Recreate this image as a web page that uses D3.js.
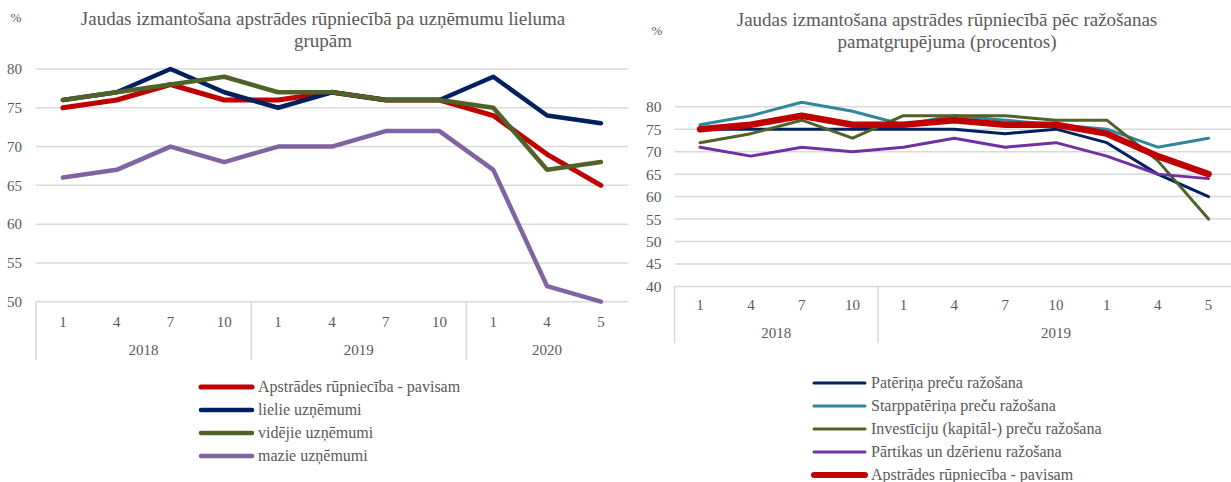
<!doctype html>
<html lang="lv">
  <head>
    <meta charset="utf-8">
    <title>Jaudas izmantošana apstrādes rūpniecībā</title>
    <style>
      body{
        margin: 0;
        background: #fff;
      }
    </style>
  </head>
  <body>
    <svg id="chart" width="1231" height="482" font-family="'Liberation Serif', 'DejaVu Serif', serif"></svg>
    <script src="https://d3js.org/d3.v7.min.js"></script>
    <script>

      // ---- left chart data: by enterprise size ----
      var monthsLeft = ["1", "4", "7", "10", "1", "4", "7", "10", "1", "4", "5"];
      var yearsLeft = ["2018", "2018", "2018", "2018", "2019", "2019", "2019", "2019", "2020", "2020", "2020"];
      var totalLeft = [75, 76, 78, 76, 76, 77, 76, 76, 74, 69, 65];
      var largeLeft = [76, 77, 80, 77, 75, 77, 76, 76, 79, 74, 73];
      var mediumLeft = [76, 77, 78, 79, 77, 77, 76, 76, 75, 67, 68];
      var smallLeft = [66, 67, 70, 68, 70, 70, 72, 72, 67, 52, 50];
      var ticksLeft = [50, 55, 60, 65, 70, 75, 80];

      // ---- right chart data: by main industrial grouping ----
      var monthsRight = ["1", "4", "7", "10", "1", "4", "7", "10", "1", "4", "5"];
      var yearsRight = ["2018", "2018", "2018", "2018", "2019", "2019", "2019", "2019", "2019", "2019", "2019"];
      var consumerRight = [75, 75, 75, 75, 75, 75, 74, 75, 72, 65, 60];
      var intermediateRight = [76, 78, 81, 79, 76, 78, 77, 76, 75, 71, 73];
      var capitalRight = [72, 74, 77, 73, 78, 78, 78, 77, 77, 68, 55];
      var foodRight = [71, 69, 71, 70, 71, 73, 71, 72, 69, 65, 64];
      var totalRight = [75, 76, 78, 76, 76, 77, 76, 76, 74, 69, 65];
      var ticksRight = [40, 45, 50, 55, 60, 65, 70, 75, 80];

      var svg = d3.select("#chart");
      var gridColor = "#d9d9d9";
      var textColor = "#595959";
      var fontFamily = "'Liberation Serif', 'DejaVu Serif', serif";

      //draws one chart panel
      var drawPanel = function(opt){

        var g = svg.append("g");

        var x = d3.scaleBand()
          .domain(d3.range(opt.months.length))
          .range([opt.left, opt.left + opt.step * opt.months.length]);

        var y = d3.scaleLinear()
          .domain(opt.domain)
          .range([opt.bottom, opt.top]);

        //gridlines
        g.selectAll(".grid")
          .data(opt.ticks)
          .enter()
          .append("line")
          .attr("x1", opt.left)
          .attr("x2", opt.right)
          .attr("y1", function(d){ return y(d); })
          .attr("y2", function(d){ return y(d); })
          .style("stroke", gridColor)
          .style("stroke-width", 1.5);

        //y axis labels
        var yAxis = g.append("g")
          .attr("transform", "translate(" + opt.left + ",0)")
          .call(d3.axisLeft(y).tickValues(opt.ticks).tickSize(0).tickPadding(opt.yPad));
        yAxis.attr("font-family", fontFamily);
        yAxis.select(".domain").remove();
        yAxis.selectAll("text")
          .style("font-size", opt.tickSize + "px")
          .style("fill", textColor);

        //month labels
        var xAxis = g.append("g")
          .attr("transform", "translate(0," + opt.bottom + ")")
          .call(d3.axisBottom(x).tickSize(0).tickPadding(opt.xPad)
            .tickFormat(function(i){ return opt.months[i]; }));
        xAxis.attr("font-family", fontFamily);
        xAxis.select(".domain").remove();
        xAxis.selectAll("text")
          .style("font-size", "15px")
          .style("fill", textColor);

        //year groups
        var groups = [];
        opt.years.forEach(function(yr, i){
          if(groups.length === 0 || groups[groups.length - 1].label !== yr){
            groups.push({label: yr, first: i, last: i});
          } else {
            groups[groups.length - 1].last = i;
          }
        });

        g.selectAll(".sep")
          .data(groups)
          .enter()
          .append("line")
          .attr("x1", function(d){ return x(d.first); })
          .attr("x2", function(d){ return x(d.first); })
          .attr("y1", opt.bottom)
          .attr("y2", opt.sepBottom)
          .style("stroke", gridColor)
          .style("stroke-width", 1.5);

        g.selectAll(".year")
          .data(groups)
          .enter()
          .append("text")
          .attr("x", function(d){ return (x(d.first) + x(d.last) + x.bandwidth()) / 2; })
          .attr("y", opt.yearY)
          .attr("text-anchor", "middle")
          .style("font-size", "15px")
          .style("fill", textColor)
          .text(function(d){ return d.label; });

        //series lines
        var line = d3.line()
          .x(function(d, i){ return x(i) + x.bandwidth() / 2; })
          .y(function(d){ return y(d); });

        opt.series.forEach(function(s){
          g.append("path")
            .datum(s.values)
            .attr("d", line)
            .style("fill", "none")
            .style("stroke", s.color)
            .style("stroke-width", s.width)
            .style("stroke-linejoin", "round")
            .style("stroke-linecap", "round");
        });

        //title
        g.append("text")
          .attr("x", opt.titleX)
          .attr("y", opt.titleY)
          .attr("text-anchor", "middle")
          .style("font-size", "19px")
          .style("fill", textColor)
          .selectAll("tspan")
          .data(opt.title)
          .enter()
          .append("tspan")
          .attr("x", opt.titleX)
          .attr("dy", function(d, i){ return i === 0 ? 0 : 22; })
          .text(function(d){ return d; });

        //percent sign
        g.append("text")
          .attr("x", opt.pctX)
          .attr("y", opt.pctY)
          .attr("text-anchor", "middle")
          .style("font-size", "13px")
          .style("fill", textColor)
          .text("%");

        //legend
        var legend = g.selectAll(".legend")
          .data(opt.series)
          .enter()
          .append("g")
          .attr("transform", function(d, i){ return "translate(" + opt.legendX + "," + (opt.legendY + i * 23) + ")"; });

        legend.append("line")
          .attr("x1", 2)
          .attr("x2", 53)
          .style("stroke", function(d){ return d.color; })
          .style("stroke-width", function(d){ return d.legendWidth; })
          .style("stroke-linecap", "round");

        legend.append("text")
          .attr("x", 59)
          .attr("y", 5)
          .style("font-size", opt.legendSize + "px")
          .style("fill", textColor)
          .text(function(d){ return d.name; });
      };

      drawPanel({
        months: monthsLeft,
        years: yearsLeft,
        ticks: ticksLeft,
        domain: [50, 80],
        left: 36, step: 53.8, right: 628,
        top: 69, bottom: 301.7,
        yPad: 14, xPad: 15, yearY: 355, sepBottom: 360,
        tickSize: 15, legendSize: 16,
        title: ["Jaudas izmantošana apstrādes rūpniecībā pa uzņēmumu lieluma", "grupām"],
        titleX: 323, titleY: 25,
        pctX: 16, pctY: 22,
        legendX: 199, legendY: 387,
        series: [
          {name: "Apstrādes rūpniecība - pavisam", values: totalLeft, color: "#c00000", width: 5, legendWidth: 5},
          {name: "lielie uzņēmumi", values: largeLeft, color: "#002060", width: 4.5, legendWidth: 4.5},
          {name: "vidējie uzņēmumi", values: mediumLeft, color: "#4f6228", width: 4.5, legendWidth: 4.5},
          {name: "mazie uzņēmumi", values: smallLeft, color: "#8064a2", width: 4.5, legendWidth: 4.5}
        ]
      });

      drawPanel({
        months: monthsRight,
        years: yearsRight,
        ticks: ticksRight,
        domain: [40, 80],
        left: 674.6, step: 50.85, right: 1231,
        top: 106.7, bottom: 286.5,
        yPad: 13, xPad: 13, yearY: 338, sepBottom: 343,
        tickSize: 15.5, legendSize: 16,
        title: ["Jaudas izmantošana apstrādes rūpniecībā pēc ražošanas", "pamatgrupējuma (procentos)"],
        titleX: 947, titleY: 26,
        pctX: 657, pctY: 35,
        legendX: 812, legendY: 383,
        series: [
          {name: "Patēriņa preču ražošana", values: consumerRight, color: "#002060", width: 3, legendWidth: 3},
          {name: "Starppatēriņa preču ražošana", values: intermediateRight, color: "#31859c", width: 3, legendWidth: 3},
          {name: "Investīciju (kapitāl-) preču ražošana", values: capitalRight, color: "#4f6228", width: 3, legendWidth: 3},
          {name: "Pārtikas un dzērienu ražošana", values: foodRight, color: "#7030a0", width: 3, legendWidth: 3},
          {name: "Apstrādes rūpniecība - pavisam", values: totalRight, color: "#c00000", width: 6.5, legendWidth: 6}
        ]
      });

    </script>
  </body>
</html>
